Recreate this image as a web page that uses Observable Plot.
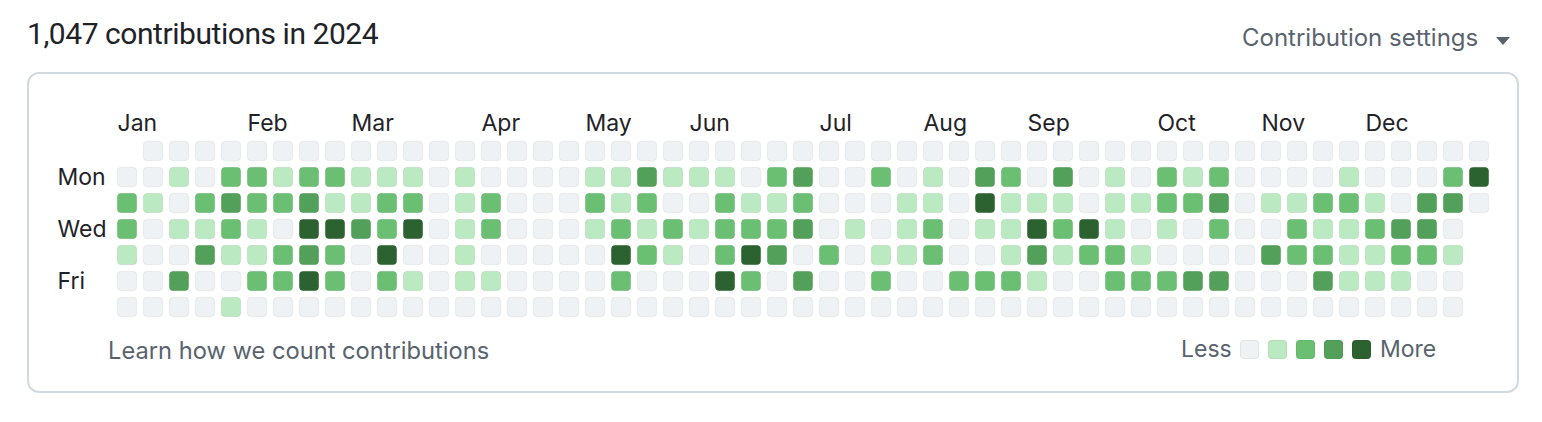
<!DOCTYPE html>
<html>
<head>
<meta charset="utf-8">
<script src="https://cdn.jsdelivr.net/npm/d3@7"></script>
<script src="https://cdn.jsdelivr.net/npm/@observablehq/plot@0.6"></script>
<style>
  html, body { margin: 0; padding: 0; background: #ffffff; }
  body { width: 1542px; height: 422px; position: relative; overflow: hidden; font-family: Inter, "Noto Sans", sans-serif; }
  .abs { position: absolute; white-space: nowrap; line-height: 1; }
  #title { left: 27px; top: 19px; font-family: Roboto, Inter, sans-serif; font-size: 30px; letter-spacing: -0.45px; color: #1f2328; }
  #settings { left: 1242px; top: 26px; font-size: 24px; color: #59636e; }
  #caret { left: 1496px; top: 37px; width: 0; height: 0; border-left: 7px solid transparent; border-right: 7px solid transparent; border-top: 8px solid #59636e; }
  #box { position: absolute; left: 27px; top: 72px; width: 1488px; height: 317px; border: 2px solid #d1d9e0; border-radius: 12px; }
  #chart { position: absolute; left: 0; top: 90px; }
  #learn { left: 108px; top: 339px; font-size: 23.7px; color: #59636e; }
  #less { left: 1181px; top: 338px; font-size: 23px; color: #59636e; }
  #more { left: 1380px; top: 338px; font-size: 23px; color: #59636e; }
  .sw { position: absolute; top: 340px; width: 19px; height: 19px; border-radius: 4px; box-sizing: border-box; border: 1px solid rgba(31,35,40,0.06); }
</style>
</head>
<body>
<div id="title" class="abs">1,047 contributions in 2024</div>
<div id="settings" class="abs">Contribution settings</div>
<div id="caret" class="abs"></div>
<div id="box"></div>
<div id="chart"></div>
<div id="learn" class="abs">Learn how we count contributions</div>
<div id="less" class="abs">Less</div>
<div id="legend"></div>
<div id="more" class="abs">More</div>
<script>
// Contribution levels (0-4) per weekday, one entry per week column (53 weeks of 2024); null = outside the year
const sun = [null, 0,0,0,0,0,0,0,0,0,0,0,0,0,0,0,0,0,0,0,0,0,0,0,0,0,0,0,0,0,0,0,0,0,0,0,0,0,0,0,0,0,0,0,0,0,0,0,0,0,0,0,0];
const mon = [0,0,1,0,2,2,1,2,2, 1,1,1,0,1,0,0,0, 0,1,1,3,1,1,1,0,2, 3,0,0,2,0,1,0,3,2, 0,3,0,1,0,2,1,2,0, 0,0,0,1,0,0,0,2,4];
const tue = [2,1,0,2,3,2,2,3,1, 1,2,2,0,1,2,0,0, 0,2,1,2,0,0,2,1,1, 2,0,0,0,1,1,0,4,1, 1,1,0,1,1,2,2,3,0, 1,1,2,2,1,0,3,3,0];
const wed = [2,0,1,1,2,1,0,4,4, 3,2,4,0,1,2,0,0, 0,1,2,1,2,1,2,2,2, 3,0,1,0,1,2,0,1,1, 4,2,4,1,0,1,0,2,0, 0,2,1,1,2,3,3,0,null];
const thu = [1,0,0,3,1,1,2,3,2, 0,4,0,0,1,0,0,0, 0,0,4,2,1,0,2,4,3, 0,2,0,1,1,2,0,0,1, 3,1,2,2,1,0,0,0,0, 3,2,2,1,1,2,2,1,null];
const fri = [0,0,3,0,0,2,2,4,2, 0,2,1,0,1,1,0,0, 0,0,2,0,0,0,4,2,0, 3,0,0,2,0,0,2,2,2, 1,0,0,2,2,2,3,3,0, 0,0,3,1,1,1,0,0,null];
const sat = [0,0,0,0,1,0,0,0,0, 0,0,0,0,0,0,0,0, 0,0,0,0,0,0,0,0,0, 0,0,0,0,0,0,0,0,0, 0,0,0,0,0,0,0,0,0, 0,0,0,0,0,0,0,0,null];

const dayNames = ["Sun", "Mon", "Tue", "Wed", "Thu", "Fri", "Sat"];
const dayLabelRows = [1, 3, 5];
const monthNames = ["Jan","Feb","Mar","Apr","May","Jun","Jul","Aug","Sep","Oct","Nov","Dec"];
const levelColors = ["#eff2f5", "#bbe9c1", "#6bbf72", "#52a059", "#2c6230"];
const year = 2024;

const rows = [sun, mon, tue, wed, thu, fri, sat];
const cells = [];
rows.forEach((arr, day) => arr.forEach((level, week) => {
  if (level != null) cells.push({week, day, level});
}));

// Month label at the first week column whose Sunday falls in that month
const firstSunday = d3.timeSunday.floor(new Date(year, 0, 1));
const monthWeeks = monthNames.map((m, i) => {
  const start = d3.timeSunday.ceil(new Date(year, i, 1));
  return i === 0 ? 0 : d3.timeWeek.count(firstSunday, start);
});

const chart = Plot.plot({
  width: 1542,
  height: 240,
  marginLeft: 114,
  marginRight: 50,
  marginTop: 48,
  marginBottom: 10,
  style: {fontSize: "23px", fontFamily: "Inter, 'Noto Sans', sans-serif", color: "#1f2328", background: "transparent", overflow: "visible"},
  x: {type: "band", domain: d3.range(53), padding: 0, axis: null},
  y: {type: "band", domain: d3.range(7), padding: 0, axis: null},
  color: {type: "ordinal", domain: [0, 1, 2, 3, 4], range: levelColors},
  marks: [
    Plot.cell(cells, {x: "week", y: "day", fill: "level", inset: 3.25, rx: 4, stroke: "rgba(31,35,40,0.06)", strokeWidth: 1}),
    Plot.axisX({anchor: "top", label: null, ticks: monthWeeks, tickFormat: (d) => monthNames[monthWeeks.indexOf(d)], tickSize: 0, tickPadding: 8, textAnchor: "start", dx: -10, fill: "#1f2328", fontSize: 23}),
    Plot.axisY({anchor: "left", label: null, ticks: dayLabelRows, tickFormat: (d) => dayNames[d], tickSize: 0, tickPadding: 57, textAnchor: "start", fill: "#1f2328", fontSize: 23})
  ]
});
document.getElementById("chart").appendChild(chart);

const legend = document.getElementById("legend");
levelColors.forEach((c, i) => {
  const s = document.createElement("div");
  s.className = "sw";
  s.style.left = (1240 + 28 * i) + "px";
  s.style.background = c;
  legend.appendChild(s);
});
</script>
</body>
</html>
